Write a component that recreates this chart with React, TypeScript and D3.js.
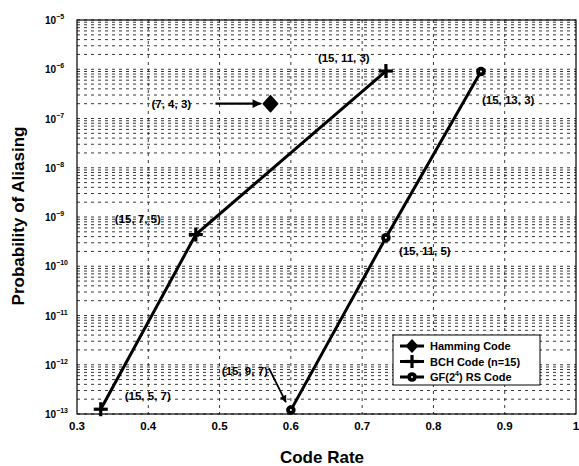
import React from "react";
import * as d3 from "d3";

const bchRate = [5 / 15, 7 / 15, 11 / 15];
const bchProb = [1.25e-13, 4.4e-10, 9.2e-7];
const bchLabels = ["(15, 5, 7)", "(15, 7, 5)", "(15, 11, 3)"];

const rsRate = [9 / 15, 11 / 15, 13 / 15];
const rsProb = [1.2e-13, 3.8e-10, 9e-7];
const rsLabels = ["(15, 9, 7)", "(15, 11, 5)", "(15, 13, 3)"];

const hammingRate = [4 / 7];
const hammingProb = [2e-7];
const hammingLabels = ["(7, 4, 3)"];

const xTicks = [0.3, 0.4, 0.5, 0.6, 0.7, 0.8, 0.9, 1.0];
const xTickLabels = ["0.3", "0.4", "0.5", "0.6", "0.7", "0.8", "0.9", "1"];
const yExponents = [-5, -6, -7, -8, -9, -10, -11, -12, -13];
const legendNames = ["Hamming Code", "BCH Code (n=15)", "GF(2", "RS Code"];

const W = 579, H = 466;
const L = 77, R = 576, T = 20, B = 414;

const x = d3.scaleLinear().domain([0.3, 1.0]).range([L, R]);
const y = d3.scaleLog().domain([1e-13, 1e-5]).range([B, T]);

const FONT = "'Liberation Sans', Arial, Helvetica, sans-serif";

function Plus({ cx, cy, s = 7 }: { cx: number; cy: number; s?: number }) {
  return (
    <g stroke="#000" strokeWidth={3.2}>
      <line x1={cx - s} y1={cy} x2={cx + s} y2={cy} />
      <line x1={cx} y1={cy - s} x2={cx} y2={cy + s} />
    </g>
  );
}
function Circ({ cx, cy }: { cx: number; cy: number }) {
  return (
    <g>
      <circle cx={cx} cy={cy} r={4.8} fill="#000" />
      <circle cx={cx} cy={cy} r={1} fill="#fff" />
    </g>
  );
}
function Diamond({ cx, cy, s = 8 }: { cx: number; cy: number; s?: number }) {
  return <path d={`M${cx},${cy - s}L${cx + s * 0.9},${cy}L${cx},${cy + s}L${cx - s * 0.9},${cy}Z`} fill="#000" stroke="#000" strokeWidth={1.5} strokeLinejoin="round" />;
}

export default function App() {
  const line = d3
    .line<[number, number]>()
    .x((d) => x(d[0]))
    .y((d) => y(d[1]));
  const bchPts: [number, number][] = bchRate.map((r, i) => [r, bchProb[i]]);
  const rsPts: [number, number][] = rsRate.map((r, i) => [r, rsProb[i]]);

  const hGrid: number[] = [];
  for (let e = -13; e < -5; e++) {
    for (let m = 1; m <= 9; m++) hGrid.push(m * Math.pow(10, e));
  }
  hGrid.push(1e-5);
  const vGrid = xTicks.slice(1, -1);

  const bchOffsets = [
    [24, -9],
    [-81, -12],
    [-68, -9],
  ];
  const rsOffsets = [
    [-69, -35],
    [13, 17],
    [1, 32],
  ];

  const hx = x(hammingRate[0]);
  const hy = y(hammingProb[0]);
  const rs0x = x(rsRate[0]);
  const rs0y = y(rsProb[0]);

  return (
    <svg
      width={W}
      height={H}
      style={{ position: "fixed", left: 0, top: 0, background: "#fff" }}
      fontFamily={FONT}
    >
      <rect x={0} y={0} width={W} height={H} fill="#fff" />
      <defs>
        <marker id="ah" viewBox="0 0 10 10" refX={9} refY={5} markerWidth={5} markerHeight={4} orient="auto" markerUnits="strokeWidth">
          <path d="M0,0L10,5L0,10Z" fill="#000" />
        </marker>
      </defs>
      <g stroke="#222" strokeWidth={0.9} strokeDasharray="3,4">
        {hGrid.map((v, i) => (
          <line key={"h" + i} x1={L} x2={R} y1={y(v)} y2={y(v)} />
        ))}
        {vGrid.map((v, i) => (
          <line key={"v" + i} x1={x(v)} x2={x(v)} y1={T} y2={B} />
        ))}
      </g>
      <rect x={L} y={T} width={R - L} height={B - T} fill="none" stroke="#000" strokeWidth={1.2} />

      <g fontWeight="bold" fill="#000">
        {yExponents.map((e) => (
          <text key={e} x={45} y={y(Math.pow(10, e)) + 4} fontSize={10}>
            10
            <tspan dy={-5} fontSize={7}>
              {"\u2212" + String(-e)}
            </tspan>
          </text>
        ))}
      </g>
      <g fontWeight="bold" fontSize={11.5} textAnchor="middle" fill="#000">
        {xTicks.map((v, i) => (
          <text key={i} x={x(v)} y={430}>
            {xTickLabels[i]}
          </text>
        ))}
      </g>
      <text x={322} y={463} textAnchor="middle" fontSize={17} fontWeight="bold">
        Code Rate
      </text>
      <text
        transform={`translate(24,216) rotate(-90)`}
        textAnchor="middle"
        fontSize={17}
        fontWeight="bold"
      >
        Probability of Aliasing
      </text>

      <path d={line(bchPts) || ""} fill="none" stroke="#000" strokeWidth={3} />
      <path d={line(rsPts) || ""} fill="none" stroke="#000" strokeWidth={3} />
      {bchPts.map((p, i) => (
        <Plus key={"b" + i} cx={x(p[0])} cy={y(p[1])} />
      ))}
      {rsPts.map((p, i) => (
        <Circ key={"r" + i} cx={x(p[0])} cy={y(p[1])} />
      ))}
      <Diamond cx={hx} cy={hy} />

      <g fontSize={11.5} fontWeight="bold" fill="#000">
        {bchPts.map((p, i) => (
          <text key={"bl" + i} x={x(p[0]) + bchOffsets[i][0]} y={y(p[1]) + bchOffsets[i][1]}>
            {bchLabels[i]}
          </text>
        ))}
        {rsPts.map((p, i) => (
          <text key={"rl" + i} x={x(p[0]) + rsOffsets[i][0]} y={y(p[1]) + rsOffsets[i][1]}>
            {rsLabels[i]}
          </text>
        ))}
        <text x={hx - 119} y={hy + 4}>
          {hammingLabels[0]}
        </text>
      </g>
      <line x1={hx - 55} y1={hy} x2={hx - 10} y2={hy} stroke="#000" strokeWidth={2.2} markerEnd="url(#ah)" />
      <line x1={rs0x - 22} y1={rs0y - 42} x2={rs0x - 5} y2={rs0y - 8} stroke="#000" strokeWidth={1.8} markerEnd="url(#ah)" />

      <g>
        <rect x={393} y={335} width={147} height={50} fill="#fff" stroke="#000" strokeWidth={1} />
        {[0, 1, 2].map((i) => {
          const ly = 346 + i * 15.5;
          return (
            <g key={"lg" + i}>
              <line x1={400} x2={424} y1={ly} y2={ly} stroke="#000" strokeWidth={3} />
              {i === 0 && <Diamond cx={412} cy={ly} s={6} />}
              {i === 1 && <Plus cx={412} cy={ly} s={6.5} />}
              {i === 2 && <Circ cx={412} cy={ly} />}
            </g>
          );
        })}
        <g fontSize={11} fontWeight="bold" fill="#000">
          <text x={430} y={350}>{legendNames[0]}</text>
          <text x={430} y={365.5}>{legendNames[1]}</text>
          <text x={430} y={381}>
            {legendNames[2]}
            <tspan dy={-5} fontSize={7}>4</tspan>
            <tspan dy={5}>{") " + legendNames[3]}</tspan>
          </text>
        </g>
      </g>
    </svg>
  );
}
